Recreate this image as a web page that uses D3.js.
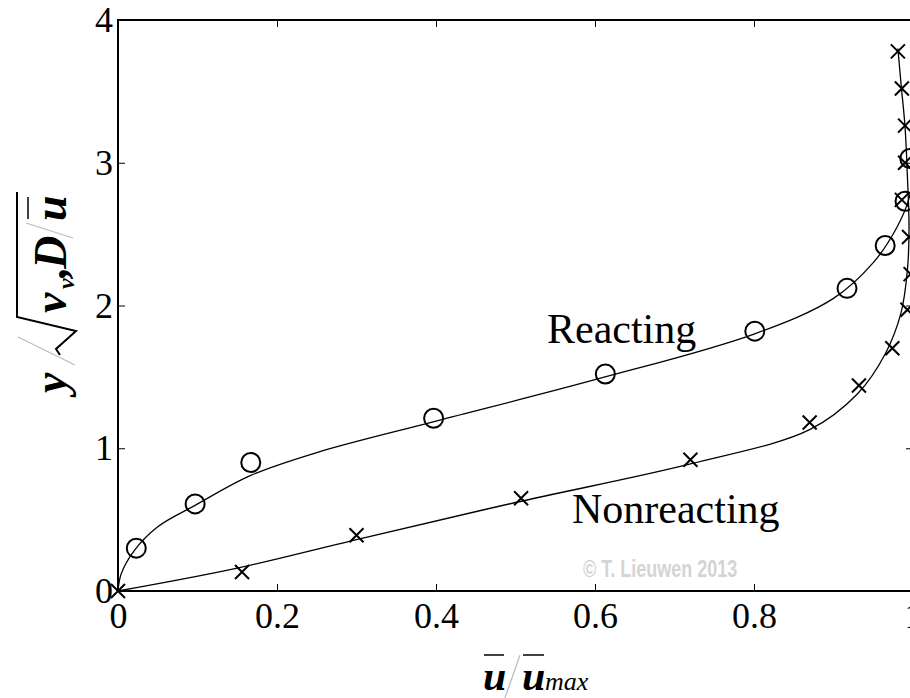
<!DOCTYPE html>
<html>
<head>
<meta charset="utf-8">
<script src="https://cdn.jsdelivr.net/npm/d3@7"></script>
<style>
body { margin: 0; background: #fff; }
svg { display: block; }
text { font-family: "Liberation Serif", "Times New Roman", serif; fill: #000; }
.tick line { stroke: #000; stroke-width: 1; }
.domain { display: none; }
</style>
</head>
<body>
<div id="chart"></div>
<script>
// measured points, Reacting (circles)
var reactU = [0.023, 0.097, 0.167, 0.397, 0.613, 0.801, 0.917, 0.965, 0.99, 0.996];
var reactY = [0.30, 0.61, 0.90, 1.21, 1.52, 1.82, 2.12, 2.42, 2.73, 3.03];
// measured points, Nonreacting (crosses)
var nonU = [0, 0.156, 0.30, 0.507, 0.72, 0.87, 0.932, 0.974, 0.993, 0.997, 0.995, 0.986, 0.99, 0.99, 0.986, 0.981];
var nonY = [0, 0.133, 0.39, 0.65, 0.92, 1.18, 1.44, 1.70, 1.97, 2.22, 2.48, 2.74, 3.00, 3.26, 3.52, 3.78];
// fitted curves
var reactFitU = [0, 0.004, 0.02, 0.05, 0.097, 0.167, 0.25, 0.4, 0.6, 0.8, 0.9, 0.95, 0.98, 0.995, 1.0];
var reactFitY = [0, 0.12, 0.28, 0.45, 0.60, 0.81, 0.97, 1.19, 1.48, 1.80, 2.05, 2.30, 2.55, 2.75, 2.95];
var nonFitU = [0, 0.15, 0.3, 0.5, 0.72, 0.87, 0.93, 0.965, 0.985, 0.993, 0.995, 0.993, 0.99, 0.985, 0.981];
var nonFitY = [0, 0.16, 0.36, 0.62, 0.89, 1.13, 1.38, 1.66, 1.95, 2.25, 2.55, 2.9, 3.25, 3.55, 3.8];

var xTicks = [0, 0.2, 0.4, 0.6, 0.8, 1];
var xTickLabels = ["0", "0.2", "0.4", "0.6", "0.8", "1"];
var yTicks = [0, 1, 2, 3, 4];
var yTickLabels = ["0", "1", "2", "3", "4"];

var W = 910, H = 698;
var pLeft = 118, pRight = 913, pTop = 20, pBottom = 591;

var x = d3.scaleLinear().domain([0, 1]).range([pLeft, pRight]);
var y = d3.scaleLinear().domain([0, 4]).range([pBottom, pTop]);

var svg = d3.select("#chart").append("svg")
  .attr("width", W).attr("height", H);

// inward ticks on all four sides
svg.append("g").attr("transform", "translate(0," + pBottom + ")")
  .call(d3.axisBottom(x).tickValues(xTicks).tickSize(-7).tickPadding(11)
    .tickFormat(function(d, i) { return xTickLabels[i]; }))
  .selectAll("text").style("font-size", "36px").attr("fill", "#000");
svg.append("g").attr("transform", "translate(0," + pTop + ")")
  .call(d3.axisTop(x).tickValues(xTicks).tickSize(-7).tickFormat(""));
svg.append("g").attr("transform", "translate(" + pLeft + ",0)")
  .call(d3.axisLeft(y).tickValues(yTicks).tickSize(-7).tickPadding(5)
    .tickFormat(function(d, i) { return yTickLabels[i]; }))
  .selectAll("text").style("font-size", "36px").attr("fill", "#000");
svg.append("g").attr("transform", "translate(" + pRight + ",0)")
  .call(d3.axisRight(y).tickValues(yTicks).tickSize(-7).tickFormat(""));

svg.append("rect")
  .attr("x", pLeft).attr("y", pTop)
  .attr("width", pRight - pLeft).attr("height", pBottom - pTop)
  .attr("fill", "none").attr("stroke", "#000").attr("stroke-width", 2);

// watermark
svg.append("text")
  .attr("x", 583).attr("y", 577)
  .attr("transform", "translate(0,577) scale(1,1.3) translate(0,-577)")
  .style("font-family", "'Liberation Sans', Arial, sans-serif")
  .style("font-weight", "bold").style("font-size", "18px")
  .style("fill", "#d4d4d4")
  .text("\u00a9 T. Lieuwen 2013");

var line = d3.line()
  .x(function(d) { return x(d[0]); })
  .y(function(d) { return y(d[1]); })
  .curve(d3.curveCatmullRom.alpha(0.5));

svg.append("path")
  .datum(reactFitU.map(function(u, i) { return [u, reactFitY[i]]; }))
  .attr("d", line).attr("fill", "none").attr("stroke", "#000").attr("stroke-width", 1.3);
svg.append("path")
  .datum(nonFitU.map(function(u, i) { return [u, nonFitY[i]]; }))
  .attr("d", line).attr("fill", "none").attr("stroke", "#000").attr("stroke-width", 1.3);

svg.selectAll("circle.react")
  .data(reactU.map(function(u, i) { return [u, reactY[i]]; }))
  .enter().append("circle").attr("class", "react")
  .attr("cx", function(d) { return x(d[0]); })
  .attr("cy", function(d) { return y(d[1]); })
  .attr("r", 9.5)
  .attr("fill", "none").attr("stroke", "#000").attr("stroke-width", 2);

var cs = 7;
svg.selectAll("path.non")
  .data(nonU.map(function(u, i) { return [u, nonY[i]]; }))
  .enter().append("path").attr("class", "non")
  .attr("d", function(d) {
    var cx = x(d[0]), cy = y(d[1]);
    return "M" + (cx - cs) + "," + (cy - cs) + "L" + (cx + cs) + "," + (cy + cs) +
           "M" + (cx - cs) + "," + (cy + cs) + "L" + (cx + cs) + "," + (cy - cs);
  })
  .attr("fill", "none").attr("stroke", "#000").attr("stroke-width", 2);

// curve labels
svg.append("text").attr("x", 547).attr("y", 343).style("font-size", "42px").text("Reacting");
svg.append("text").attr("x", 572).attr("y", 523).style("font-size", "42px").text("Nonreacting");

// x axis title: u-bar / u-bar max
var xt = svg.append("g");
xt.append("text").attr("x", 483).attr("y", 690)
  .style("font-size", "42px").style("font-weight", "bold").style("font-style", "italic").text("u");
xt.append("line").attr("x1", 484).attr("x2", 504).attr("y1", 655).attr("y2", 655)
  .attr("stroke", "#000").attr("stroke-width", 1.5);
xt.append("line").attr("x1", 505).attr("x2", 520).attr("y1", 698).attr("y2", 655)
  .attr("stroke", "#bbb").attr("stroke-width", 1.2);
xt.append("text").attr("x", 522).attr("y", 690)
  .style("font-size", "42px").style("font-weight", "bold").style("font-style", "italic").text("u");
xt.append("line").attr("x1", 523).attr("x2", 544).attr("y1", 655).attr("y2", 655)
  .attr("stroke", "#000").attr("stroke-width", 1.5);
xt.append("text").attr("x", 545).attr("y", 690)
  .style("font-size", "26px").style("font-style", "italic").text("max");

// y axis title: y / sqrt(nu_v D / u-bar)
var yt = svg.append("g").attr("transform", "translate(66,393) rotate(-90)");
yt.append("text").attr("x", 0).attr("y", 0)
  .style("font-size", "46px").style("font-weight", "bold").style("font-style", "italic").text("y");
yt.append("line").attr("x1", 28).attr("y1", 9).attr("x2", 56).attr("y2", -48)
  .attr("stroke", "#bbb").attr("stroke-width", 1.2);
yt.append("path")
  .attr("d", "M38,-6 L44,-10 L62,10 L76,-49 L201,-49")
  .attr("fill", "none").attr("stroke", "#000").attr("stroke-width", 2);
yt.append("text").attr("x", 80).attr("y", 0)
  .style("font-size", "46px").style("font-weight", "bold").style("font-style", "italic").text("\u03bd");
yt.append("text").attr("x", 104).attr("y", 8)
  .style("font-size", "24px").style("font-weight", "bold").style("font-style", "italic").text("v");
yt.append("text").attr("x", 115).attr("y", 0)
  .style("font-size", "46px").style("font-weight", "bold").style("font-style", "italic").text(",");
yt.append("text").attr("x", 124).attr("y", 0)
  .style("font-size", "46px").style("font-weight", "bold").style("font-style", "italic").text("D");
yt.append("line").attr("x1", 155).attr("y1", 7).attr("x2", 170).attr("y2", -40)
  .attr("stroke", "#bbb").attr("stroke-width", 1.2);
yt.append("text").attr("x", 172).attr("y", 0)
  .style("font-size", "46px").style("font-weight", "bold").style("font-style", "italic").text("u");
yt.append("line").attr("x1", 174).attr("y1", -38).attr("x2", 196).attr("y2", -38)
  .attr("stroke", "#000").attr("stroke-width", 1.5);
</script>
</body>
</html>
